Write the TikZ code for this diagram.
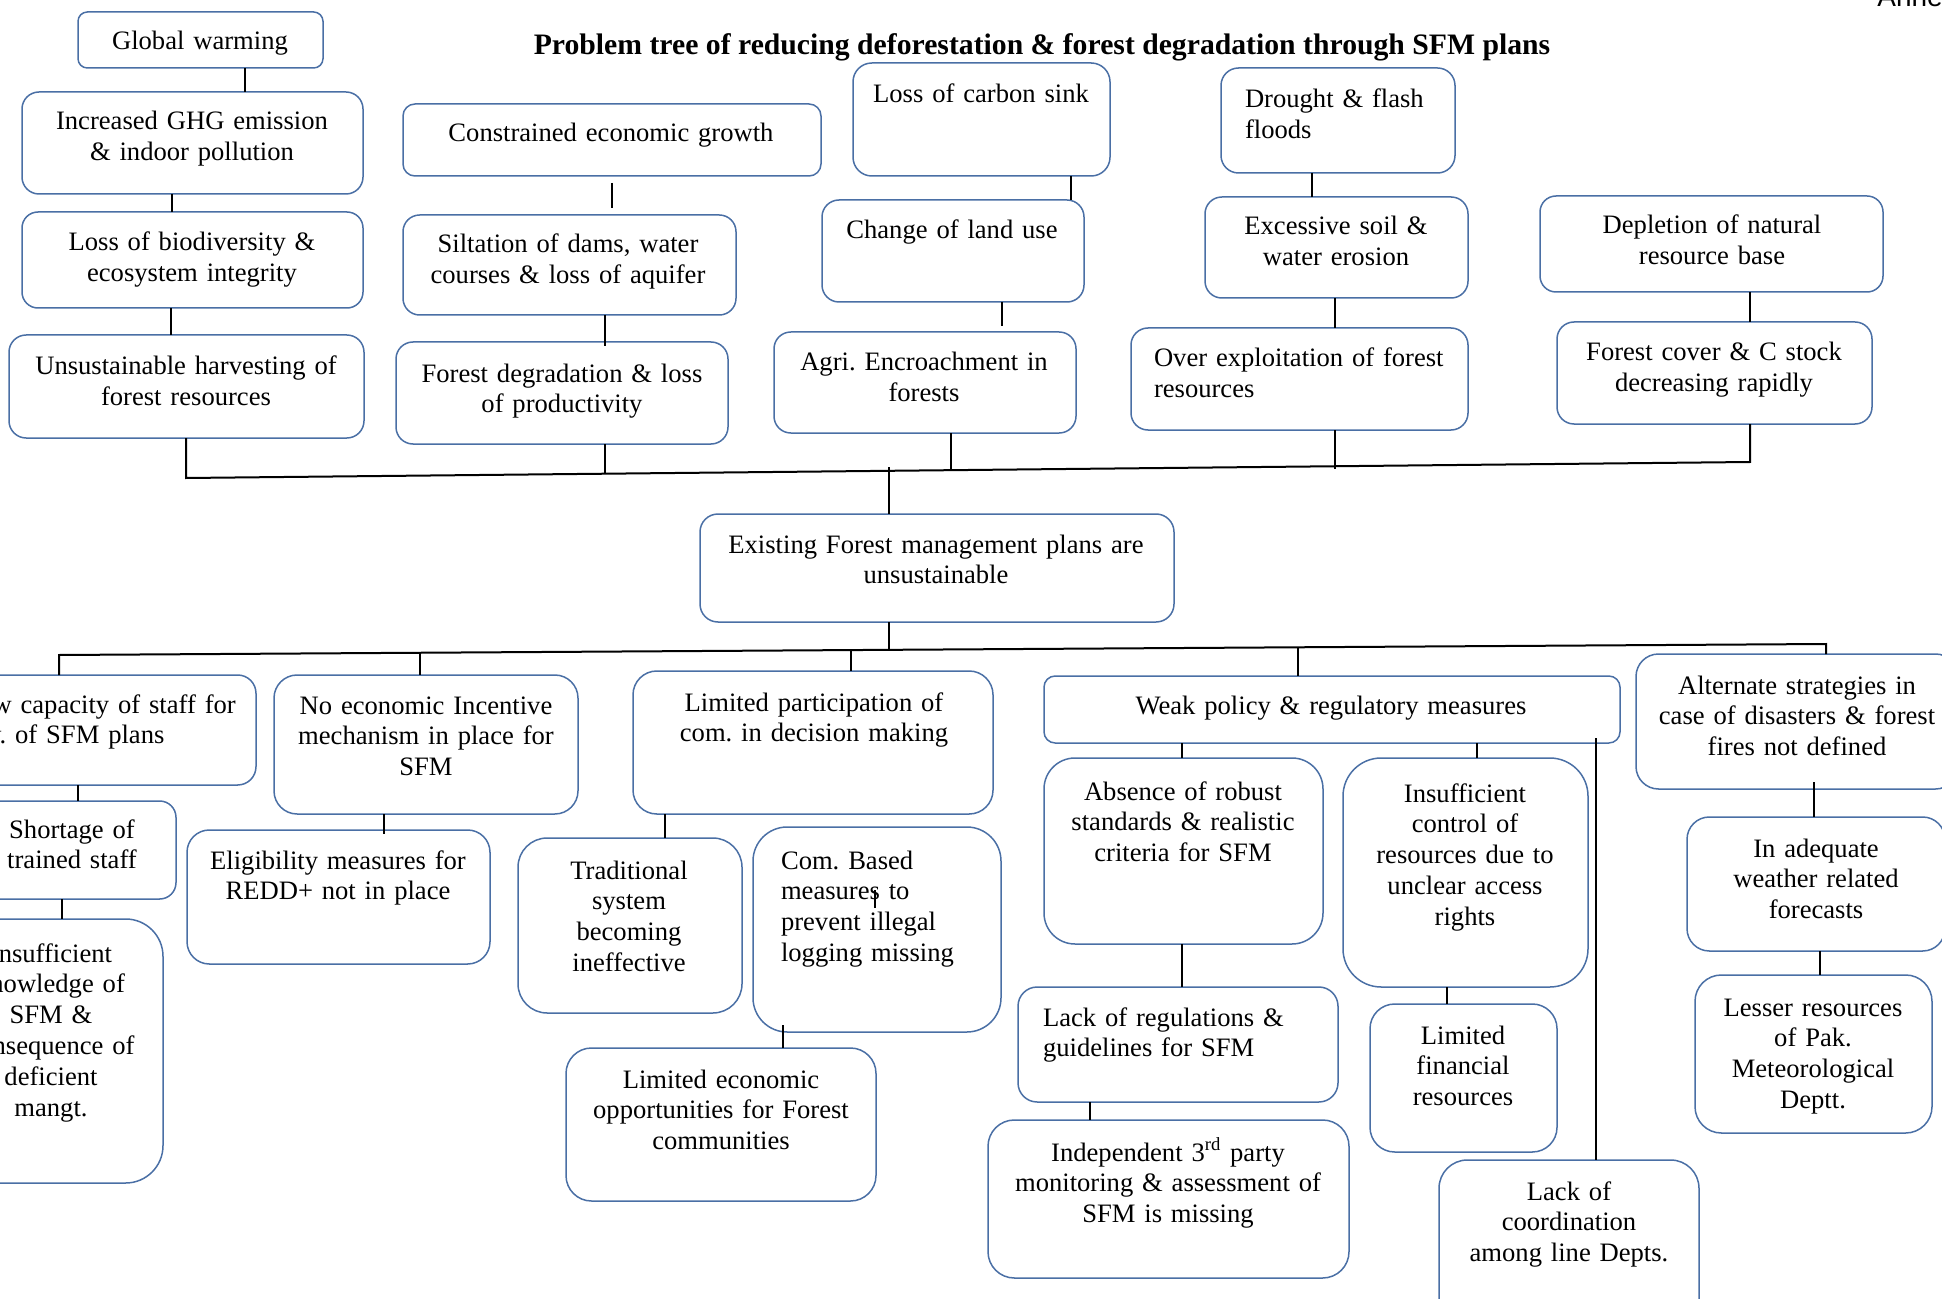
\documentclass[tikz,border=0pt]{standalone}
\usepackage{fontspec}
\setmainfont{Liberation Serif}
\newfontfamily\annexfont{Liberation Sans}
\usetikzlibrary{calc}
\definecolor{boxline}{HTML}{4A6FA5}
\frenchspacing

% rounded box given by its corners (x1,y1)-(x2,y2) in layout units
\newcommand\tbox[5]{%
  \pgfmathsetmacro\bw{(#4-#2)*0.5}%
  \pgfmathsetmacro\bh{(#5-#3)*0.5}%
  \pgfmathsetmacro\br{min(\bw,\bh)/6}%
  \node[pbox, minimum width=\bw pt, minimum height=\bh pt, rounded corners=\br pt]
    (#1) at ({(#2+#4)/2},{(#3+#5)/2}) {};%
}

\begin{document}
\begin{tikzpicture}[x=0.5pt,y=-0.5pt,
  pbox/.style={draw=boxline, line width=0.75pt, inner sep=0pt, outer sep=0pt},
  conn/.style={draw=black, line width=1pt},
  ptext/.style={inner sep=0pt, outer sep=0pt, text width=260pt,
    font=\fontsize{13.3}{15.4}\selectfont},
  ctr/.style={ptext, align=center, anchor=base},
  lft/.style={ptext, align=left, anchor=base west},
]
\useasboundingbox (0,0) rectangle (1942,1299);
\clip (0,0) rectangle (1942,1299);

% ---------- heading ----------
\node[inner sep=0pt, anchor=base, font=\fontsize{14.85}{17}\selectfont\bfseries] (title) at (1042,55)
  {Problem tree of reducing deforestation \& forest degradation through SFM plans};
\node[inner sep=0pt, anchor=base west, font=\annexfont\fontsize{14}{16}\selectfont] (annex) at (1877,7) {Annex};

% ---------- effects ----------
\tbox{gw}{78}{12}{323}{68}
\node[ctr] (gw-t) at (200,50) {Global warming};
\tbox{ghg}{22}{92}{363}{194}
\node[ctr] (ghg-t) at (192,130) {Increased GHG emission\\\& indoor pollution};
\tbox{bio}{22}{212}{363}{308}
\node[ctr] (bio-t) at (192,251) {Loss of biodiversity \&\\ecosystem integrity};
\tbox{uns}{9}{335}{364}{438}
\node[ctr] (uns-t) at (186,375) {Unsustainable harvesting of\\forest resources};

\tbox{ceg}{403}{104}{821}{176}
\node[ctr] (ceg-t) at (611,142) {Constrained economic growth};
\tbox{sil}{403}{215}{736}{315}
\node[ctr] (sil-t) at (568,253) {Siltation of dams, water\\courses \& loss of aquifer};
\tbox{fdg}{396}{342}{728}{444}
\node[ctr] (fdg-t) at (562,382) {Forest degradation \& loss\\of productivity};

\tbox{lcs}{853}{63}{1110}{176}
\node[ctr] (lcs-t) at (981,103) {Loss of carbon sink};
\tbox{clu}{822}{200}{1084}{302}
\node[ctr] (clu-t) at (952,239) {Change of land use};
\tbox{agr}{774}{332}{1076}{433}
\node[ctr] (agr-t) at (924,371) {Agri. Encroachment in\\forests};

\tbox{dff}{1221}{68}{1455}{173}
\node[lft] (dff-t) at (1245,108) {Drought \& flash\\floods};
\tbox{ese}{1205}{197}{1468}{298}
\node[ctr] (ese-t) at (1336,235) {Excessive soil \&\\water erosion};
\tbox{oef}{1131}{328}{1468}{430}
\node[lft] (oef-t) at (1154,367) {Over exploitation of forest\\resources};

\tbox{dnr}{1540}{196}{1883}{292}
\node[ctr] (dnr-t) at (1712,234) {Depletion of natural\\resource base};
\tbox{fcc}{1557}{322}{1872}{424}
\node[ctr] (fcc-t) at (1714,361) {Forest cover \& C stock\\decreasing rapidly};

% ---------- core problem ----------
\tbox{exist}{700}{514}{1174}{622}
\node[ctr] (exist-t) at (936,553) {Existing Forest management plans are\\unsustainable};

% ---------- causes ----------
\tbox{lcap}{-70}{675}{256}{785}
\node[lft] (lcap-t) at (-37,713) {Low capacity of staff for\\dev. of SFM plans};
\tbox{sts}{-32}{801}{176}{899}
\node[ctr] (sts-t) at (72,838) {Shortage of\\trained staff};
\tbox{ikn}{-61}{919}{163}{1183}
\node[ctr] (ikn-t) at (51,962) {Insufficient\\knowledge of\\SFM \&\\consequence of\\deficient\\mangt.};

\tbox{nei}{274}{675}{578}{814}
\node[ctr] (nei-t) at (426,714) {No economic Incentive\\mechanism in place for\\SFM};
\tbox{elg}{187}{830}{490}{964}
\node[ctr] (elg-t) at (338,869) {Eligibility measures for\\REDD+ not in place};

\tbox{lpc}{633}{671}{993}{814}
\node[ctr] (lpc-t) at (814,711) {Limited participation of\\com. in decision making};
\tbox{tsb}{518}{838}{742}{1013}
\node[ctr] (tsb-t) at (629,879) {Traditional\\system\\becoming\\ineffective};
\tbox{cbm}{753}{827}{1001}{1032}
\node[lft] (cbm-t) at (781,869) {Com. Based\\measures to\\prevent illegal\\logging missing};
\draw[line width=0.6pt] (875,890) -- (875,908);
\tbox{leo}{566}{1048}{876}{1201}
\node[ctr] (leo-t) at (721,1088) {Limited economic\\opportunities for Forest\\communities};

\tbox{wpr}{1044}{676}{1620}{743}
\node[ctr] (wpr-t) at (1331,714) {Weak policy \& regulatory measures};
\tbox{arb}{1044}{758}{1323}{944}
\node[ctr] (arb-t) at (1183,800) {Absence of robust\\standards \& realistic\\criteria for SFM};
\tbox{lrg}{1018}{987}{1338}{1102}
\node[lft] (lrg-t) at (1043,1026) {Lack of regulations \&\\guidelines for SFM};
\tbox{itp}{988}{1120}{1349}{1278}
\node[ctr] (itp-t) at (1168,1161) {Independent 3\textsuperscript{rd} party\\monitoring \& assessment of\\SFM is missing};
\tbox{icr}{1343}{758}{1588}{987}
\node[ctr] (icr-t) at (1465,802) {Insufficient\\control of\\resources due to\\unclear access\\rights};
\tbox{lfr}{1370}{1004}{1557}{1152}
\node[ctr] (lfr-t) at (1463,1044) {Limited\\financial\\resources};
\tbox{lcd}{1439}{1160}{1699}{1330}
\node[ctr] (lcd-t) at (1569,1200) {Lack of\\coordination\\among line Depts.};

\tbox{asd}{1636}{654}{1958}{789}
\node[ctr] (asd-t) at (1797,694) {Alternate strategies in\\case of disasters \& forest\\fires not defined};
\tbox{iwf}{1687}{817}{1945}{951}
\node[ctr] (iwf-t) at (1816,857) {In adequate\\weather related\\forecasts};
\tbox{lrp}{1695}{975}{1932}{1133}
\node[ctr] (lrp-t) at (1813,1016) {Lesser resources\\of Pak.\\Meteorological\\Deptt.};

% ---------- connectors, effects side ----------
\draw[conn] (gw.south -| 245,0) -- (ghg.north -| 245,0);
\draw[conn] (ghg.south -| 172,0) -- (bio.north -| 172,0);
\draw[conn] (bio.south -| 171,0) -- (uns.north -| 171,0);
\draw[conn, shorten <=3.5pt, shorten >=3.5pt] (ceg.south -| 612,0) -- (sil.north -| 612,0);
\draw[conn, shorten >=-2pt] (sil.south -| 605,0) -- (fdg.north -| 605,0);
\draw[conn] (lcs.south -| 1071,0) -- (clu.north -| 1071,0);
\draw[conn, shorten >=3pt] (clu.south -| 1002,0) -- (agr.north -| 1002,0);
\draw[conn] (dff.south -| 1312,0) -- (ese.north -| 1312,0);
\draw[conn] (ese.south -| 1335,0) -- (oef.north -| 1335,0);
\draw[conn] (dnr.south -| 1750,0) -- (fcc.north -| 1750,0);

\coordinate (tl) at (186,478);
\coordinate (tr) at (1750,462);
\draw[conn] (uns.south -| tl) -- (tl) -- (tr) -- (fcc.south -| tr);
\draw[conn] (fdg.south -| 605,0) -- (605,473.7);
\draw[conn] (agr.south -| 951,0) -- (951,470.2);
\draw[conn] (oef.south -| 1335,0) -- (1335,468.5);
\draw[conn] (889,467) -- (exist.north -| 889,0);

% ---------- connectors, causes side ----------
\coordinate (bl) at (59,655);
\coordinate (br) at (1826,644);
\draw[conn] (exist.south -| 889,0) -- (889,649.8);
\draw[conn] (lcap.north -| bl) -- (bl) -- (br) -- (asd.north -| br);
\draw[conn] (420,652.8) -- (nei.north -| 420,0);
\draw[conn] (851,650.1) -- (lpc.north -| 851,0);
\draw[conn] (1298,647.3) -- (wpr.north -| 1298,0);

\draw[conn] (lcap.south -| 78,0) -- (sts.north -| 78,0);
\draw[conn] (sts.south -| 62,0) -- (ikn.north -| 62,0);
\draw[conn, shorten >=-2pt] (nei.south -| 384,0) -- (elg.north -| 384,0);
\draw[conn] (lpc.south -| 665,0) -- (tsb.north -| 665,0);
\draw[conn, shorten <=-3.5pt] (cbm.south -| 783,0) -- (leo.north -| 783,0);
\draw[conn] (wpr.south -| 1182,0) -- (arb.north -| 1182,0);
\draw[conn] (wpr.south -| 1477,0) -- (icr.north -| 1477,0);
\draw[conn] (arb.south -| 1182,0) -- (lrg.north -| 1182,0);
\draw[conn] (lrg.south -| 1090,0) -- (itp.north -| 1090,0);
\draw[conn] (icr.south -| 1447,0) -- (lfr.north -| 1447,0);
\draw[conn, shorten <=-2.5pt] (wpr.south -| 1596,0) -- (lcd.north -| 1596,0);
\draw[conn, shorten <=-3.5pt] (asd.south -| 1814,0) -- (iwf.north -| 1814,0);
\draw[conn] (iwf.south -| 1820,0) -- (lrp.north -| 1820,0);
\end{tikzpicture}
\end{document}
